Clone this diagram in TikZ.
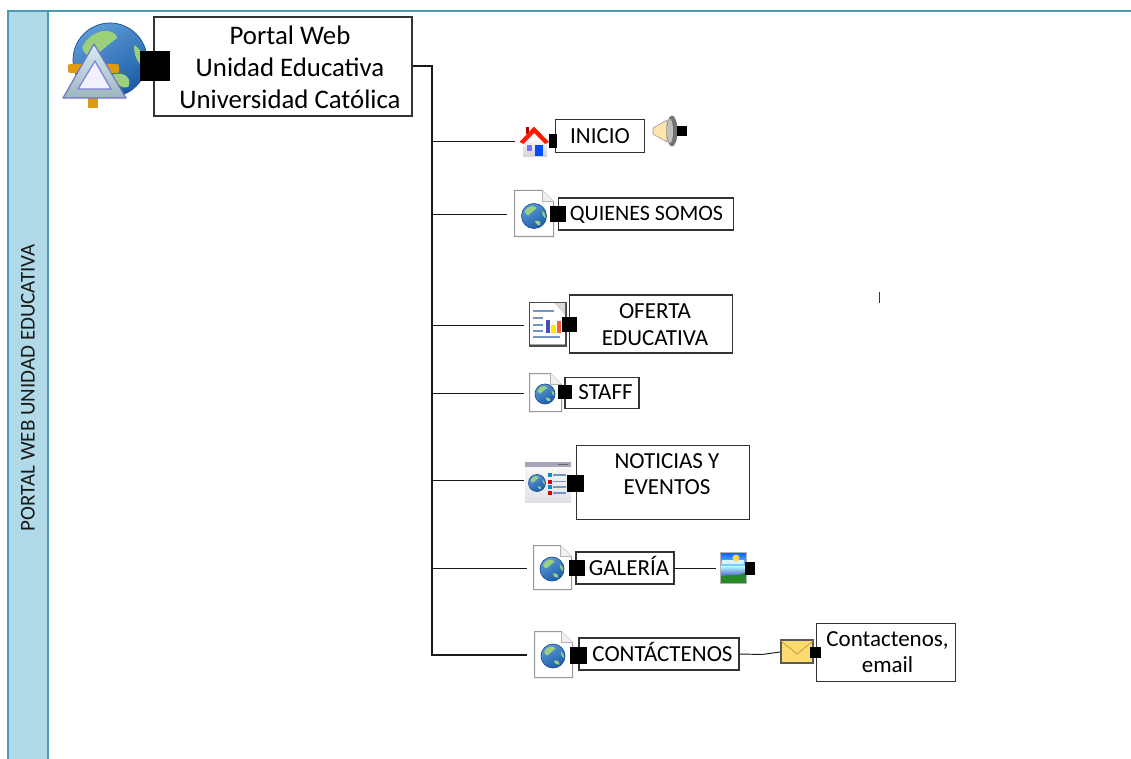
\documentclass[tikz,border=0pt]{standalone}
\usepackage{fontspec}
\setmainfont{Carlito}
\definecolor{bandfill}{HTML}{B0DAE7}
\definecolor{bandline}{HTML}{4A9DB0}
\definecolor{seal}{HTML}{5B9BD5}
\definecolor{sead}{HTML}{1C5CA8}
\definecolor{seadark}{HTML}{1D4F94}
\definecolor{land}{HTML}{9CD07A}
\definecolor{orng}{HTML}{E09A10}
\definecolor{listblue}{HTML}{7595C6}
\tikzset{
  x=1pt,y=-1pt,
  box/.style={draw=black!80,line width=1.1pt,fill=white,inner sep=0pt,align=center,font=\fontsize{23}{26.7}\selectfont},
  handle/.style={fill=black,draw=none,inner sep=0pt,minimum width=#1,minimum height=#1},
  branch/.style={draw=black!90,line width=.95pt},
  trunk/.style={draw=black!90,line width=1.5pt},
}
\newcommand{\zb}[2]{\raisebox{#1pt}[0pt][0pt]{#2}}
\newcommand{\lines}[1]{\begin{tabular}{@{}c@{}}#1\end{tabular}}
\newcommand{\globeicon}[3]{% x y r
  \begin{scope}[shift={(#1,#2)}]
    \shade[left color=seal,right color=sead,shading angle=30] (0,0) circle[radius=#3];
    \draw[seadark,line width=.7pt] (0,0) circle[radius=#3];
    \fill[land] (-.75*#3,-.35*#3) .. controls (-.5*#3,-.85*#3) and (.1*#3,-.9*#3) .. (.2*#3,-.6*#3)
      .. controls (0,-.45*#3) and (-.2*#3,-.3*#3) .. (-.45*#3,-.05*#3) .. controls (-.55*#3,-.05*#3) and (-.7*#3,-.15*#3) .. cycle;
    \fill[land] (.05*#3,.4*#3) .. controls (.35*#3,.3*#3) and (.6*#3,.45*#3) .. (.5*#3,.72*#3)
      .. controls (.3*#3,.82*#3) and (.15*#3,.6*#3) .. cycle;
    \fill[land] (.65*#3,-.4*#3) .. controls (.85*#3,-.3*#3) and (.97*#3,0) .. (.93*#3,.2*#3)
      .. controls (.75*#3,.1*#3) and (.65*#3,-.1*#3) .. cycle;
  \end{scope}}
\newcommand{\docicon}[4]{% left top w h
  \begin{scope}[shift={(#1,#2)}]
    \draw[black!40,fill=white,line width=1pt] (0,0) -- ({#3-11},0) -- (#3,11) -- (#3,#4) -- (0,#4) -- cycle;
    \draw[black!30,fill=black!6,line width=.7pt] ({#3-11},0) -- ({#3-11},11) -- (#3,11);
  \end{scope}}
\begin{document}
\begin{tikzpicture}
\useasboundingbox (0,0) rectangle (1131,759);
\fill[white] (0,0) rectangle (1131,759);
% band
\path[fill=bandfill] (8,11) rectangle (48,759);
\draw[bandline,line width=1.2pt] (8,759) -- (8,11) -- (1131,11);
\draw[bandline,line width=1.2pt] (48,11) -- (48,759);
\node[rotate=90,font=\fontsize{21}{24}\selectfont,text=black!90] (bandtitle) at (28,387.5) {PORTAL WEB UNIDAD EDUCATIVA};
% stray tick
\draw[black!80,line width=1pt] (879.5,292) -- (879.5,303);
% nodes
\node[box,minimum width=258,minimum height=99,font=\fontsize{26.8}{32}\selectfont] (root) at (283,66.5) {\hspace*{14pt}\zb{-9.7}{\lines{Portal Web\\Unidad Educativa\\Universidad Católica}}};
\node[box,minimum width=89,minimum height=33] (inicio) at (600,136) {\zb{-7.4}{INICIO}};
\node[box,minimum width=175,minimum height=32,font=\fontsize{22}{26}\selectfont] (quienes) at (646,214) {\hspace*{1pt}\zb{-7}{QUIENES SOMOS}};
\node[box,minimum width=163,minimum height=58] (oferta) at (651,324) {\hspace*{8pt}\zb{-8.75}{\lines{OFERTA\\EDUCATIVA}}};
\node[box,minimum width=74,minimum height=31] (staff) at (602,393) {\hspace*{7pt}\zb{-6.9}{STAFF}};
\node[box,minimum width=173,minimum height=74] (noticias) at (663,482.5) {\hspace*{8pt}\zb{0.25}{\lines{NOTICIAS Y\\EVENTOS}}};
\node[box,minimum width=98,minimum height=32] (galeria) at (625,568) {\hspace*{8pt}\zb{-7.4}{GALERÍA}};
\node[box,minimum width=160,minimum height=32] (contact) at (659,654) {\hspace*{7pt}\zb{-7.4}{CONTÁCTENOS}};
\node[box,minimum width=139,minimum height=58] (email) at (886,652.5) {\hspace*{3pt}\zb{-7.75}{\lines{Contactenos,\\email}}};
% connector anchors
\coordinate (tr) at (432,66);
\coordinate (a1) at (515,141);
\coordinate (a2) at (507,214);
\coordinate (a3) at (524,325);
\coordinate (a4) at (524,393);
\coordinate (a5) at (524,480);
\coordinate (a6) at (527,568);
\coordinate (a7) at (527,655);
\coordinate (pic) at (716,568);
\coordinate (env) at (780,652);
% trunk
\draw[trunk,line join=miter] (root.east |- tr) -- (tr) -- (tr |- a7) -- (a7);
\foreach \p in {a1,a2,a3,a4,a5,a6} \draw[branch] (tr |- \p) -- (\p);
\draw[branch] (galeria.east |- pic) -- (pic);
\draw[branch] (contact.east) -- (762,654.5) -- (env);
% root icon
\fill[orng] (88,85) rectangle (98,108);
\globeicon{110}{60}{37}
\fill[orng,rounded corners=2pt] (68,64) rectangle (90,73);
\fill[orng,rounded corners=2pt] (100,64) rectangle (119,73);
\shade[top color=bandfill!50!white,bottom color=bandfill!60!gray] (94,44) -- (63,98) -- (126,98) -- cycle;
\draw[draw=black!40!blue!55,line width=1.2pt,line join=round] (94,44) -- (63,98) -- (126,98) -- cycle;
\draw[fill=blue!6,draw=black!30!blue!50,line width=1.2pt] (95,61) -- (78,89) -- (111,89) -- cycle;
\node[handle=30pt] (hroot) at (155,66.5) {};
% inicio icon
\shade[top color=black!4,bottom color=black!18] (523,141) rectangle (547,157);
\fill[blue!55] (527,145) rectangle (532,151);
\fill[blue!70!cyan] (535,145) rectangle (543,156);
\fill[red!70!black] (526,127) rectangle (529,134);
\fill[red!80!orange] (519.5,142) -- (534,126.5) -- (549,142) -- (545,144) -- (534,133) -- (523.5,144) -- cycle;
\node[handle=8pt,minimum height=14pt] (hinicio) at (553,141) {};
% speaker
\fill[yellow!40!orange!30,draw=black!40,line width=.6pt] (653,128) -- (667,120) -- (667,142) -- (653,134) -- cycle;
\fill[black!55] (672,131) ellipse[x radius=5.5,y radius=15.5];
\fill[black!25] (670,131) ellipse[x radius=3,y radius=12];
\node[handle=10pt] (hsound) at (682,131) {};
% quienes icon
\docicon{514.5}{190.5}{39}{46}
\globeicon{534}{216}{12.5}
\node[handle=16pt] (hq) at (558,214) {};
% oferta icon
\draw[black!70,fill=white,line width=1.3pt] (529.5,302.5) rectangle (566,346);
\draw[black!35,line width=1pt] (530,344.5) -- (565,344.5);
\fill[black!15] (565,303) -- (565,315) -- (554,303) -- cycle;
\foreach \yy/\xx in {311/554,318/543,325/543,331/543,337/560} \draw[listblue,line width=1.8pt] (533,\yy) -- (\xx,\yy);
\fill[blue!40!gray] (546,320) rectangle (550,333);
\fill[yellow!90!orange] (551,325) rectangle (555.5,333);
\fill[red!55!orange!80] (557,321) rectangle (561,333);
\node[handle=15pt] (ho) at (569,324) {};
% staff icon
\docicon{529.5}{373.5}{32}{38}
\globeicon{545}{394}{10}
\node[handle=14pt] (hs) at (565,392) {};
% noticias icon
\shade[top color=black!3,bottom color=blue!25!black!12] (525,467) rectangle (571,502);
\fill[blue!20!black!35] (525,462) rectangle (571,467);
\fill[black!60] (558,463.5) rectangle (568,465);
\globeicon{537}{483}{8.5}
\foreach \yy/\cc in {475/cyan!70!blue,481.5/red!85!black,487/cyan!70!blue,493/red!85!black} {
  \fill[\cc] (548,\yy-2) rectangle (552,\yy+2);
  \draw[listblue,line width=1.6pt] (553,\yy) -- (566,\yy);
}
\node[handle=17pt] (hn) at (575.5,483) {};
% galeria icon
\docicon{533.5}{545.5}{38}{44}
\globeicon{552}{569}{12}
\node[handle=16pt] (hg) at (577,568) {};
\shade[top color=blue!65!cyan,bottom color=cyan!30] (720,552) rectangle (746,570);
\shade[top color=cyan!30,bottom color=blue!50!gray] (720,566) rectangle (746,578);
\fill[cyan!15] (722,560) rectangle (744,564);
\fill[yellow!60!orange!70] (736,558) circle[radius=3.5];
\fill[green!45!black!85] (720,583) -- (720,577) .. controls (730,573) and (738,578) .. (746,572) -- (746,583) -- cycle;
\draw[black!30,line width=.7pt] (720,552) rectangle (746,583);
\node[handle=10pt,minimum height=13pt] (hp) at (750,568) {};
% contact icon
\docicon{534.5}{631.5}{38}{46}
\globeicon{553}{656}{12}
\node[handle=17pt] (hc) at (578,655) {};
% envelope
\draw[black!65,fill=yellow!55!orange!55,line width=1.2pt] (781,640) rectangle (813,663);
\draw[orange!70!black!70,line width=.7pt] (781,641) -- (797,654) -- (813,641);
\node[handle=11pt] (he) at (815.5,652) {};
\end{tikzpicture}
\end{document}
